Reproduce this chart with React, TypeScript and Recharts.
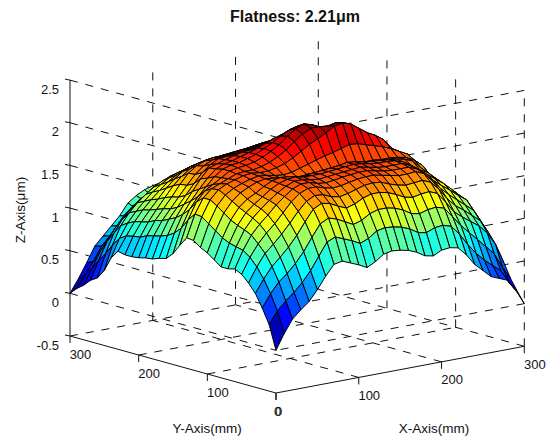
import React from "react";
import { ScatterChart, Scatter, XAxis, YAxis } from "recharts";

const X_TICKS = [0, 100, 200, 300];
const Y_TICKS = [0, 100, 200, 300];
const Z_TICKS = [-0.5, 0, 0.5, 1, 1.5, 2, 2.5];
const TITLE = "Flatness: 2.21\u03bcm";
const X_LABEL = "X-Axis(mm)";
const Y_LABEL = "Y-Axis(mm)";
const Z_LABEL = "Z-Axis(\u03bcm)";

// surface heights in hundredths of a micrometre; rows step along Y, columns along X
const R00 = [0,18,33,42,50,62,76,88,90,86,82,77,82,89,91,90,88,84,78,76,81,82,80,70,57,48,39,35,31,17,0];
const R01 = [28,42,52,60,70,82,97,112,116,112,108,103,107,114,116,115,113,109,103,101,105,106,103,92,78,66,56,48,40,24,12];
const R02 = [45,60,72,80,90,102,117,131,136,133,128,123,126,132,135,135,133,129,123,121,124,125,122,110,98,88,78,68,58,40,25];
const R03 = [60,75,88,97,107,119,133,146,151,149,144,140,143,148,151,151,149,145,140,138,140,141,137,125,112,104,97,90,80,65,42];
const R04 = [70,87,101,110,120,131,143,153,158,157,153,151,153,156,159,160,159,155,152,150,151,152,148,138,125,115,108,100,92,76,50];
const R05 = [78,96,110,121,130,141,152,160,164,164,161,159,160,162,164,165,165,163,161,159,159,160,156,146,135,126,118,110,102,86,60];
const R06 = [82,102,118,129,138,148,156,163,167,167,164,163,164,166,167,168,168,166,164,163,163,163,159,150,142,134,127,119,112,96,68];
const R07 = [80,104,122,134,143,151,158,164,168,168,166,165,166,167,168,169,170,168,166,165,165,165,161,153,147,140,133,124,115,100,75];
const R08 = [80,106,125,138,146,153,160,165,168,169,167,167,167,168,169,170,171,170,168,167,167,166,163,157,150,145,136,127,118,103,80];
const R09 = [86,110,129,142,150,155,161,166,168,167,165,165,166,167,168,169,171,170,168,167,166,165,164,162,158,148,139,130,120,105,82];
const R10 = [92,116,135,147,155,160,164,166,165,162,160,160,162,162,163,164,165,165,165,164,164,163,163,162,160,155,147,133,120,106,84];
const R11 = [96,122,141,152,158,162,165,167,166,164,163,164,167,170,173,176,178,181,184,183,180,177,174,170,165,160,150,135,120,106,86];
const R12 = [102,128,146,156,161,164,167,168,167,167,169,172,177,183,189,194,199,205,207,204,197,190,185,178,166,158,148,135,120,106,86];
const R13 = [103,129,146,155,159,163,167,168,168,170,173,178,184,192,199,204,204,203,205,203,197,191,185,179,168,158,148,135,120,106,86];
const R14 = [92,120,139,150,156,162,168,170,171,173,177,182,188,196,203,207,204,199,199,199,195,190,186,178,167,157,147,134,119,105,85];
const R15 = [80,108,128,141,151,161,168,171,172,175,178,183,188,194,199,202,202,198,194,192,190,187,183,177,166,156,146,133,118,104,84];
const R16 = [72,100,120,134,146,157,166,170,172,175,178,181,185,189,192,196,197,194,191,189,187,184,180,176,165,155,145,132,117,103,83];
const R17 = [70,95,114,128,141,154,165,168,171,174,176,177,179,182,185,188,190,188,186,184,182,179,177,174,163,153,143,130,115,101,82];
const R18 = [67,92,110,122,134,146,157,165,170,171,172,173,175,177,179,181,183,182,180,178,176,174,172,170,160,150,140,127,112,98,80];
const R19 = [66,90,106,118,130,142,153,161,166,168,169,170,171,173,175,176,177,176,174,172,170,168,166,165,155,145,135,122,108,94,76];
const R20 = [64,88,104,116,128,141,152,159,163,165,165,166,167,168,170,171,171,170,168,166,164,162,161,160,150,140,130,118,104,90,72];
const R21 = [63,84,100,113,125,137,146,153,158,160,161,162,163,164,165,165,165,164,162,160,158,157,156,155,145,135,125,113,99,85,68];
const R22 = [63,83,98,110,121,132,141,148,152,154,155,156,157,158,159,159,159,158,156,155,153,152,151,150,140,130,120,108,94,80,62];
const R23 = [65,81,96,108,118,127,135,141,146,149,150,151,152,153,154,154,154,153,151,150,148,146,145,144,134,124,113,101,87,73,56];
const R24 = [55,76,92,104,114,123,130,136,140,142,144,145,146,147,148,148,147,146,144,143,141,139,137,136,126,116,105,93,79,65,48];
const R25 = [38,66,87,100,110,118,125,130,134,136,138,139,140,140,141,141,140,139,137,135,133,130,128,127,117,106,95,83,69,55,40];
const R26 = [27,54,76,90,100,108,115,120,124,127,129,130,130,130,131,131,130,129,127,125,122,119,117,115,105,95,83,71,57,43,30];
const R27 = [22,44,64,78,90,99,106,112,115,118,119,120,120,120,120,120,119,118,116,113,110,107,105,103,93,83,71,57,44,32,22];
const R28 = [14,32,50,64,76,85,93,100,104,107,109,110,110,110,110,110,109,107,105,102,100,96,92,88,79,68,56,44,33,22,14];
const R29 = [8,22,36,52,62,72,82,90,97,101,104,105,106,106,105,104,103,101,98,94,90,85,78,70,62,52,40,30,22,14,8];
const R30 = [0,15,32,50,60,70,80,93,100,105,108,110,110,110,108,106,104,100,96,90,84,78,70,60,50,40,30,22,14,8,0];
const Z_ROWS = [R00,R01,R02,R03,R04,R05,R06,R07,R08,R09,R10,R11,R12,R13,R14,R15,R16,R17,R18,R19,R20,R21,R22,R23,R24,R25,R26,R27,R28,R29,R30];

const COLOR_MAX = 2.07;
const FONT = '"Liberation Sans", Arial, sans-serif';
const WIDTH = 555;
const HEIGHT = 437;

// oblique view of the plot box, as seen in the picture
const project = (x: number, y: number, z: number) => ({
  sx: 276 + (x / 300) * 248.3 - (y / 300) * 206,
  sy: 393 - (x / 300) * 46.7 - (y / 300) * 57 - (z + 0.5) * 85.3,
});

const clamp = (v: number) => Math.max(0, Math.min(1, v));
const jet = (value: number) => {
  const t = clamp(value);
  const r = clamp(Math.min(4 * t - 1.5, -4 * t + 4.5));
  const g = clamp(Math.min(4 * t - 0.5, -4 * t + 3.5));
  const b = clamp(Math.min(4 * t + 0.5, -4 * t + 2.5));
  return `rgb(${Math.round(r * 255)},${Math.round(g * 255)},${Math.round(b * 255)})`;
};

const n = Z_ROWS.length - 1;
const cells: any[] = [];
for (let j = 0; j < n; j++) {
  for (let i = 0; i < n; i++) {
    const corners = [
      [i, j],
      [i + 1, j],
      [i + 1, j + 1],
      [i, j + 1],
    ].map(([a, b]) => ({ a, b, z: Z_ROWS[b][a] / 100 }));
    const verts = corners.map((c) => project((c.a * 300) / n, (c.b * 300) / n, c.z));
    const sx = verts.reduce((s, v) => s + v.sx, 0) / 4;
    const sy = verts.reduce((s, v) => s + v.sy, 0) / 4;
    const mean = corners.reduce((s, c) => s + c.z, 0) / 4;
    cells.push({
      sx,
      sy,
      depth: i + j,
      fill: jet((corners[0].z + mean) / 2 / COLOR_MAX),
      offsets: verts.map((v) => [v.sx - sx, v.sy - sy]),
    });
  }
}
cells.sort((p, q) => q.depth - p.depth);

const CellShape = (props: any) => {
  const { cx, cy, payload } = props;
  const pts = payload.offsets.map((o: number[]) => `${cx + o[0]},${cy + o[1]}`).join(" ");
  return <polygon points={pts} fill={payload.fill} stroke="#000" strokeWidth={1} strokeLinejoin="round" />;
};

const NoMark = () => <g />;

const TextMark = (props: any) => {
  const { cx, cy, payload } = props;
  return (
    <text
      x={cx}
      y={cy}
      fontFamily={FONT}
      fontSize={payload.size}
      fontWeight={payload.bold ? 700 : 400}
      textAnchor={payload.anchor || "middle"}
      dominantBaseline="central"
      fill="#111"
      transform={payload.rotate ? `rotate(${payload.rotate} ${cx} ${cy})` : undefined}
    >
      {payload.text}
    </text>
  );
};

const segments: { a: any; b: any; solid: boolean }[] = [];
const zMin = Z_TICKS[0];
const zTop = Z_TICKS[Z_TICKS.length - 1];
Z_TICKS.filter((z) => z > zMin).forEach((z) => {
  segments.push({ a: project(0, 300, z), b: project(0, 0, z), solid: false });
  segments.push({ a: project(300, 0, z), b: project(0, 0, z), solid: false });
});
X_TICKS.forEach((x) => {
  segments.push({ a: project(x, 300, zMin), b: project(x, 300, zTop), solid: x === 0 });
  if (x > 0) segments.push({ a: project(x, 0, zMin), b: project(x, 300, zMin), solid: false });
});
Y_TICKS.forEach((y) => {
  if (y < 300) segments.push({ a: project(300, y, zMin), b: project(300, y, zTop), solid: false });
  if (y > 0) segments.push({ a: project(0, y, zMin), b: project(300, y, zMin), solid: false });
});
segments.push({ a: project(0, 0, zMin), b: project(300, 0, zMin), solid: true });
segments.push({ a: project(0, 0, zMin), b: project(0, 300, zMin), solid: true });
X_TICKS.forEach((x) => {
  const p = project(x, 0, zMin);
  segments.push({ a: p, b: { sx: p.sx, sy: p.sy + 7 }, solid: true });
});
Y_TICKS.forEach((y) => {
  const p = project(0, y, zMin);
  segments.push({ a: p, b: { sx: p.sx, sy: p.sy + 7 }, solid: true });
});
Z_TICKS.forEach((z) => {
  const p = project(0, 300, z);
  segments.push({ a: { sx: p.sx - 5, sy: p.sy - 1 }, b: p, solid: true });
});

const labels: any[] = [
  { sx: 295, sy: 16, text: TITLE, size: 16, bold: true },
  { sx: 207, sy: 428, text: Y_LABEL, size: 13.5 },
  { sx: 434, sy: 428, text: X_LABEL, size: 13.5 },
  { sx: 20, sy: 210, text: Z_LABEL, size: 13.5, rotate: -90 },
];
Z_TICKS.forEach((z) => {
  const p = project(0, 300, z);
  labels.push({ sx: 59, sy: p.sy + 9, text: String(z), size: 13, anchor: "end" });
});
Y_TICKS.forEach((y) => {
  const p = project(0, y, zMin);
  labels.push({ sx: p.sx + (y === 0 ? 1.5 : 10.5), sy: p.sy + 18, text: String(y), size: 13 });
});
X_TICKS.forEach((x) => {
  const p = project(x, 0, zMin);
  labels.push({ sx: p.sx + (x === 0 ? 2.5 : 10.5), sy: p.sy + 18, text: String(x), size: 13 });
});

export default function App() {
  return (
    <div style={{ position: "absolute", left: 0, top: 0, width: WIDTH, height: HEIGHT }}>
      <ScatterChart width={WIDTH} height={HEIGHT} margin={{ top: 0, right: 0, bottom: 0, left: 0 }}>
        <XAxis type="number" dataKey="sx" domain={[0, WIDTH]} hide />
        <YAxis type="number" dataKey="sy" domain={[0, HEIGHT]} reversed hide />
        {segments.map((s, k) => (
          <Scatter
            key={k}
            data={[s.a, s.b]}
            isAnimationActive={false}
            shape={NoMark}
            line={{
              stroke: "#111",
              strokeWidth: 1,
              strokeDasharray: s.solid ? undefined : "8 8",
            }}
          />
        ))}
        <Scatter data={cells} isAnimationActive={false} shape={CellShape} />
        <Scatter data={labels} isAnimationActive={false} shape={TextMark} />
      </ScatterChart>
    </div>
  );
}
